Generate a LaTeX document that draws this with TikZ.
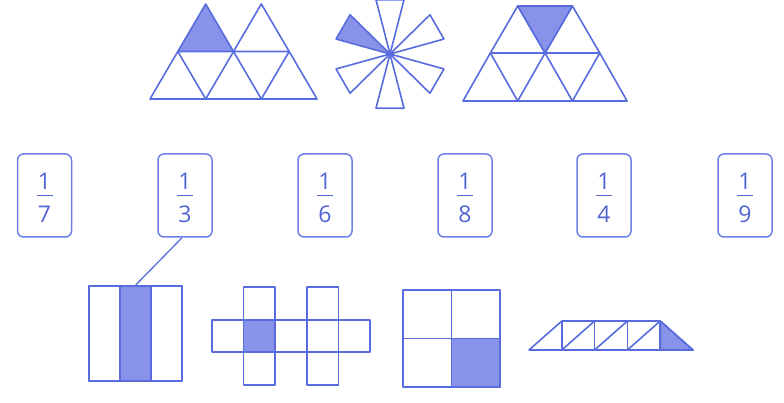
\documentclass[tikz,border=0pt]{standalone}
\usepackage{fontspec}
\setmainfont{Open Sans}
\definecolor{ln}{RGB}{88,108,222}
\definecolor{fl}{RGB}{136,146,232}
\definecolor{cd}{RGB}{108,128,232}
\definecolor{tx}{RGB}{82,100,212}
\tikzset{
  fig/.style={draw=ln, line width=1.6pt, line join=round},
  sh/.style={fig, fill=fl},
  card/.style={draw=cd, line width=1.5pt, rounded corners=6pt, minimum width=54pt, minimum height=83pt, inner sep=0pt},
  num/.style={text=tx, inner sep=0pt, font=\fontsize{23}{25}\selectfont},
  bar/.style={draw=tx, line width=1.2pt},
  link/.style={draw=ln, line width=1.3pt}
}
\begin{document}
\begin{tikzpicture}[x=1pt,y=-1pt]
\useasboundingbox (0,0) rectangle (784,403);
% figure 1: 7 triangles
\draw[fig] (150,99) -- (205.7,99) -- (177.8,51.5) -- cycle;
\draw[fig] (205.7,99) -- (261.3,99) -- (233.5,51.5) -- cycle;
\draw[fig] (261.3,99) -- (317,99) -- (289.2,51.5) -- cycle;
\draw[sh] (177.8,51.5) -- (233.5,51.5) -- (205.7,4) -- cycle;
\draw[fig] (233.5,51.5) -- (289.2,51.5) -- (261.3,4) -- cycle;
% figure 2: star of 6 wedges
\foreach \a in {270,330,30,90,150}{
  \draw[fig] (390,54) -- ++(\a-14.5:56) -- ++(\a+90:{2*56*sin(14.5)}) -- cycle;
}
\draw[sh] (390,54) -- ++(210-14.5:56) -- ++(300:{2*56*sin(14.5)}) -- cycle;
% figure 3: 8 triangles
\draw[fig] (463,101) -- (517.7,101) -- (490.35,53) -- cycle;
\draw[fig] (517.7,101) -- (572.4,101) -- (545.05,53) -- cycle;
\draw[fig] (572.4,101) -- (627.1,101) -- (599.75,53) -- cycle;
\draw[fig] (490.35,53) -- (545.05,53) -- (517.7,6) -- cycle;
\draw[fig] (545.05,53) -- (599.75,53) -- (572.4,6) -- cycle;
\draw[sh] (517.7,6) -- (572.4,6) -- (545.05,53) -- cycle;
% cards
\foreach \i/\x/\d in {1/44.5/7,2/185/3,3/325/6,4/465/8,5/604/4,6/745/9}{
  \node[card] (c\i) at (\x,195.5) {};
  \node[num] (c\i n) at (\x,181.5) {1};
  \node[num] (c\i d) at (\x,214) {\d};
  \draw[bar] (\x-8,195.5) -- (\x+8,195.5);
}
% figure 4: rectangle in thirds
\node[fig, minimum width=93pt, minimum height=95pt, inner sep=0pt] (r1) at (135.5,333.5) {};
\draw[sh] (120,286) rectangle (151,381);
\draw[fig] (89,286) rectangle (182,381);
\draw[link] ([xshift=-3pt]c2.south) -- (r1.north);
% figure 5: cross of 9 squares
\draw[sh] (243.6,320) rectangle (275.2,352);
\draw[fig] (212,320) rectangle (370,352);
\draw[fig] (243.6,287) rectangle (275.2,385);
\draw[fig] (306.8,287) rectangle (338.4,385);
% figure 6: square in quarters
\draw[sh] (451.5,338.5) rectangle (500,387);
\draw[fig] (403,290) rectangle (500,387);
\draw[fig] (451.5,290) -- (451.5,387);
\draw[fig] (403,338.5) -- (500,338.5);
% figure 7: strip of 8 triangles
\draw[sh] (660.2,321) -- (693,350) -- (660.2,350) -- cycle;
\draw[fig] (529,350) -- (693,350) -- (660.2,321) -- (561.8,321) -- cycle;
\foreach \x in {561.8,594.6,627.4,660.2}{
  \draw[fig] (\x,321) -- (\x,350);
}
\foreach \x in {561.8,594.6,627.4}{
  \draw[fig] (\x,350) -- (\x+32.8,321);
}
\end{tikzpicture}
\end{document}
